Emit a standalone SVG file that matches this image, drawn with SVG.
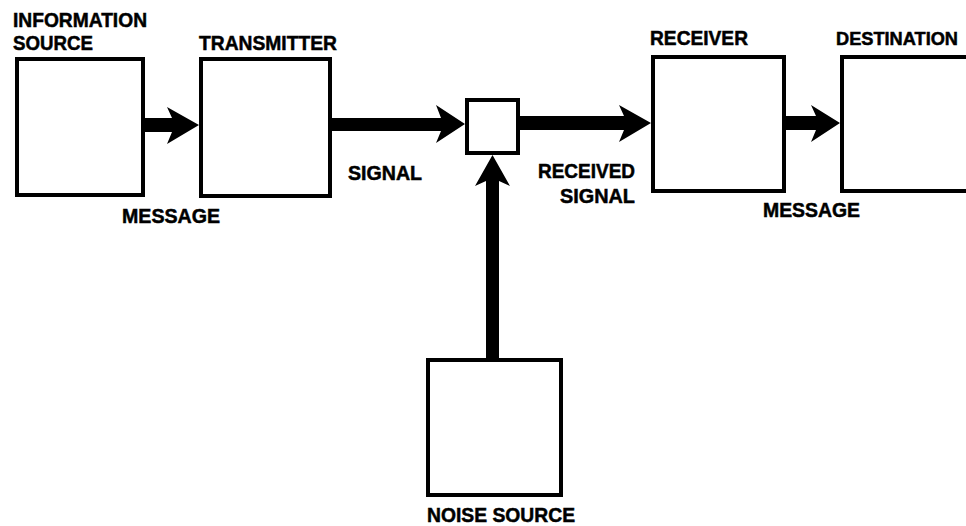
<svg xmlns="http://www.w3.org/2000/svg" width="966" height="526" viewBox="0 0 966 526">
<style>
.box{fill:#fff;stroke:#000;stroke-width:4}
.arrow{fill:#000;stroke:none}
.lbl{font-family:"Liberation Sans",Arial,sans-serif;font-weight:bold;font-size:20px;fill:#000;stroke:#000;stroke-width:0.5}
</style>
<rect width="966" height="526" fill="#fff"/>
<g id="connectors">
<polygon class="arrow" points="145,118 172,118 167,107 199,125 167,144 172,132 145,132"/>
<polygon class="arrow" points="332,118 441,118 436,105 465,124 436,143 441,131 332,131"/>
<polygon class="arrow" points="520,116 624,116 619,105 651,123 619,142 624,130 520,130"/>
<polygon class="arrow" points="786,116 816,116 811,105 840,123 811,142 816,130 786,130"/>
<polygon class="arrow" points="486,358 486,181 475,186 492.5,155 510,186 499,181 499,358"/>
</g>
<g id="information-source">
<rect class="box" x="17" y="59" width="126" height="136"/>
<text class="lbl" x="13" y="27" textLength="134" lengthAdjust="spacingAndGlyphs">INFORMATION</text>
<text class="lbl" x="13" y="50" textLength="80" lengthAdjust="spacingAndGlyphs">SOURCE</text>
</g>
<g id="transmitter">
<rect class="box" x="201" y="59" width="129" height="137"/>
<text class="lbl" x="199" y="50" textLength="138" lengthAdjust="spacingAndGlyphs">TRANSMITTER</text>
</g>
<g id="noise-junction">
<rect class="box" x="467" y="100" width="51" height="53"/>
</g>
<g id="receiver">
<rect class="box" x="653" y="57" width="131" height="134"/>
<text class="lbl" x="650" y="45" textLength="98" lengthAdjust="spacingAndGlyphs">RECEIVER</text>
</g>
<g id="destination">
<rect class="box" x="842" y="57" width="200" height="134"/>
<text class="lbl" x="836" y="45" font-size="18" style="font-size:18px" textLength="122" lengthAdjust="spacingAndGlyphs">DESTINATION</text>
</g>
<g id="noise-source">
<rect class="box" x="428" y="360" width="133" height="135"/>
<text class="lbl" x="427" y="522" textLength="148" lengthAdjust="spacingAndGlyphs">NOISE SOURCE</text>
</g>
<g id="labels">
<text class="lbl" x="122" y="223" textLength="98" lengthAdjust="spacingAndGlyphs">MESSAGE</text>
<text class="lbl" x="348" y="180" textLength="74" lengthAdjust="spacingAndGlyphs">SIGNAL</text>
<text class="lbl" x="538" y="178" textLength="97" lengthAdjust="spacingAndGlyphs">RECEIVED</text>
<text class="lbl" x="560" y="203" textLength="75" lengthAdjust="spacingAndGlyphs">SIGNAL</text>
<text class="lbl" x="763" y="217" textLength="97" lengthAdjust="spacingAndGlyphs">MESSAGE</text>
</g>
</svg>
